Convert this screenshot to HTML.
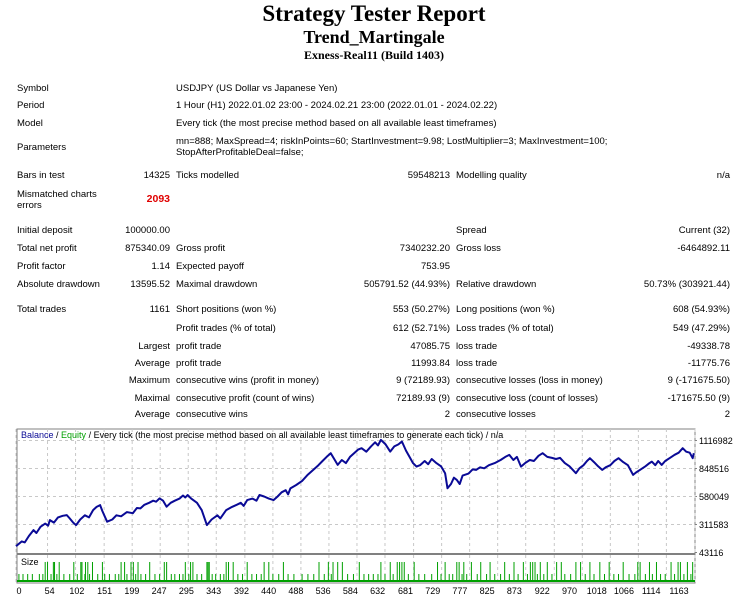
<!DOCTYPE html>
<html><head><meta charset="utf-8">
<style>
body{margin:0;width:742px;height:600px;background:#fff;position:relative;overflow:hidden;font-family:"Liberation Sans",sans-serif;color:#000}
.t{position:absolute;font-size:9.5px;white-space:nowrap;line-height:11px}
.r{text-align:right}
.h{position:absolute;left:0;width:748px;text-align:center;font-family:"Liberation Serif",serif;font-weight:bold;white-space:nowrap}
</style></head><body>
<div class="h" style="top:1px;font-size:23px">Strategy Tester Report</div>
<div class="h" style="top:27px;font-size:18px">Trend_Martingale</div>
<div class="h" style="top:48px;font-size:12px">Exness-Real11 (Build 1403)</div>

<div class="t" style="left:17px;top:83px">Symbol</div>
<div class="t" style="left:176px;top:83px">USDJPY (US Dollar vs Japanese Yen)</div>
<div class="t" style="left:17px;top:100px">Period</div>
<div class="t" style="left:176px;top:100px">1 Hour (H1) 2022.01.02 23:00 - 2024.02.21 23:00 (2022.01.01 - 2024.02.22)</div>
<div class="t" style="left:17px;top:118px">Model</div>
<div class="t" style="left:176px;top:118px">Every tick (the most precise method based on all available least timeframes)</div>
<div class="t" style="left:17px;top:142px">Parameters</div>
<div class="t" style="left:176px;top:136px">mn=888; MaxSpread=4; riskInPoints=60; StartInvestment=9.98; LostMultiplier=3; MaxInvestment=100;<br>StopAfterProfitableDeal=false;</div>
<div class="t" style="left:17px;top:170px">Bars in test</div>
<div class="t r" style="left:100px;width:70px;top:170px">14325</div>
<div class="t" style="left:176px;top:170px">Ticks modelled</div>
<div class="t r" style="left:350px;width:100px;top:170px">59548213</div>
<div class="t" style="left:456px;top:170px">Modelling quality</div>
<div class="t r" style="left:630px;width:100px;top:170px">n/a</div>
<div class="t" style="left:17px;top:189px">Mismatched charts<br>errors</div>
<div class="t r" style="left:100px;width:70px;top:194px;color:#e00000;font-weight:bold;font-size:10.5px">2093</div>

<div class="t" style="left:17px;top:225px">Initial deposit</div>
<div class="t r" style="left:100px;width:70px;top:225px">100000.00</div>
<div class="t" style="left:456px;top:225px">Spread</div>
<div class="t r" style="left:630px;width:100px;top:225px">Current (32)</div>

<div class="t" style="left:17px;top:243px">Total net profit</div>
<div class="t r" style="left:100px;width:70px;top:243px">875340.09</div>
<div class="t" style="left:176px;top:243px">Gross profit</div>
<div class="t r" style="left:350px;width:100px;top:243px">7340232.20</div>
<div class="t" style="left:456px;top:243px">Gross loss</div>
<div class="t r" style="left:630px;width:100px;top:243px">-6464892.11</div>

<div class="t" style="left:17px;top:261px">Profit factor</div>
<div class="t r" style="left:100px;width:70px;top:261px">1.14</div>
<div class="t" style="left:176px;top:261px">Expected payoff</div>
<div class="t r" style="left:350px;width:100px;top:261px">753.95</div>

<div class="t" style="left:17px;top:279px">Absolute drawdown</div>
<div class="t r" style="left:100px;width:70px;top:279px">13595.52</div>
<div class="t" style="left:176px;top:279px">Maximal drawdown</div>
<div class="t r" style="left:330px;width:120px;top:279px">505791.52 (44.93%)</div>
<div class="t" style="left:456px;top:279px">Relative drawdown</div>
<div class="t r" style="left:610px;width:120px;top:279px">50.73% (303921.44)</div>

<div class="t" style="left:17px;top:304px">Total trades</div>
<div class="t r" style="left:100px;width:70px;top:304px">1161</div>
<div class="t" style="left:176px;top:304px">Short positions (won %)</div>
<div class="t r" style="left:350px;width:100px;top:304px">553 (50.27%)</div>
<div class="t" style="left:456px;top:304px">Long positions (won %)</div>
<div class="t r" style="left:630px;width:100px;top:304px">608 (54.93%)</div>

<div class="t" style="left:176px;top:323px">Profit trades (% of total)</div>
<div class="t r" style="left:350px;width:100px;top:323px">612 (52.71%)</div>
<div class="t" style="left:456px;top:323px">Loss trades (% of total)</div>
<div class="t r" style="left:630px;width:100px;top:323px">549 (47.29%)</div>

<div class="t r" style="left:80px;width:90px;top:341px">Largest</div>
<div class="t" style="left:176px;top:341px">profit trade</div>
<div class="t r" style="left:350px;width:100px;top:341px">47085.75</div>
<div class="t" style="left:456px;top:341px">loss trade</div>
<div class="t r" style="left:630px;width:100px;top:341px">-49338.78</div>

<div class="t r" style="left:80px;width:90px;top:358px">Average</div>
<div class="t" style="left:176px;top:358px">profit trade</div>
<div class="t r" style="left:350px;width:100px;top:358px">11993.84</div>
<div class="t" style="left:456px;top:358px">loss trade</div>
<div class="t r" style="left:630px;width:100px;top:358px">-11775.76</div>

<div class="t r" style="left:80px;width:90px;top:375px">Maximum</div>
<div class="t" style="left:176px;top:375px">consecutive wins (profit in money)</div>
<div class="t r" style="left:350px;width:100px;top:375px">9 (72189.93)</div>
<div class="t" style="left:456px;top:375px">consecutive losses (loss in money)</div>
<div class="t r" style="left:630px;width:100px;top:375px">9 (-171675.50)</div>

<div class="t r" style="left:80px;width:90px;top:393px">Maximal</div>
<div class="t" style="left:176px;top:393px">consecutive profit (count of wins)</div>
<div class="t r" style="left:350px;width:100px;top:393px">72189.93 (9)</div>
<div class="t" style="left:456px;top:393px">consecutive loss (count of losses)</div>
<div class="t r" style="left:630px;width:100px;top:393px">-171675.50 (9)</div>

<div class="t r" style="left:80px;width:90px;top:409px">Average</div>
<div class="t" style="left:176px;top:409px">consecutive wins</div>
<div class="t r" style="left:350px;width:100px;top:409px">2</div>
<div class="t" style="left:456px;top:409px">consecutive losses</div>
<div class="t r" style="left:630px;width:100px;top:409px">2</div>

<svg id="chart" style="position:absolute;left:0;top:0" width="742" height="600" xmlns="http://www.w3.org/2000/svg"></svg>

<script>
const balanceTrades=[0,10,15,22,30,35,42,50,55,58,65,72,80,87,92,98,103,110,118,125,132,138,144,148,156,165,172,180,190,200,207,213,220,228,235,240,246,252,258,265,272,280,286,290,294,300,310,318,327,335,345,350,360,370,378,385,390,396,405,412,417,425,433,441,448,455,462,466,470,480,490,500,510,518,525,532,539,545,551,558,565,572,580,586,592,600,608,615,620,625,633,641,648,655,661,668,675,680,686,692,700,706,712,720,728,735,739,745,750,755,760,765,775,782,788,795,802,810,820,830,838,845,852,858,865,872,880,887,895,902,910,918,925,932,940,948,959,965,972,978,983,990,997,1004,1010,1018,1025,1032,1040,1048,1057,1062,1070,1078,1085,1089,1095,1100,1106,1112,1120,1128,1135,1142,1148,1154,1159,1161];
const balanceValues=[104000,150000,140000,200000,258000,230000,290000,320000,300000,354000,330000,380000,395000,402000,370000,330000,306000,360000,400000,380000,450000,480000,498000,440000,338000,360000,400000,390000,430000,420000,470000,466000,500000,520000,540000,530000,562000,540000,482000,520000,540000,560000,590000,570000,594000,560000,520000,450000,306000,360000,400000,370000,450000,480000,500000,520000,490000,546000,560000,540000,594000,580000,560000,546000,580000,620000,640000,600000,658000,690000,730000,790000,840000,880000,920000,960000,995000,940000,883000,930000,900000,960000,1000000,1030000,1043000,1010000,1060000,1100000,1070000,1123000,1080000,1011000,1060000,1080000,1107000,1020000,950000,900000,867000,880000,920000,890000,940000,900000,870000,803000,659000,700000,760000,739000,700000,780000,800000,840000,835000,860000,850000,880000,900000,930000,960000,979000,930000,960000,867000,900000,930000,920000,970000,995000,960000,950000,940000,950000,900000,870000,803000,850000,880000,920000,947000,910000,870000,835000,860000,880000,920000,947000,910000,880000,787000,810000,840000,870000,900000,915000,880000,920000,883000,920000,950000,980000,1000000,1043000,1010000,1000000,947000,995000];
const yTicks=[43116,311583,580049,848516,1116982];
const xTicks=[0,54,102,151,199,247,295,343,392,440,488,536,584,632,681,729,777,825,873,922,970,1018,1066,1114,1163];
const tallSizeTrades=[50,54,64,66,74,99,111,113,119,123,131,148,180,186,197,201,209,229,254,258,290,299,303,327,329,331,360,364,372,396,425,433,458,519,535,543,551,559,588,625,641,653,657,661,665,682,722,735,755,759,767,780,796,812,837,853,869,881,885,889,898,910,926,934,959,967,983,1000,1016,1040,1065,1069,1085,1097,1122,1134,1138,1150,1159];
const midSizeTrades=[5,12,20,28,40,46,60,70,82,92,105,118,126,140,152,160,170,176,190,205,214,222,238,246,266,272,280,286,296,310,318,336,342,350,356,380,388,404,412,420,440,450,466,476,490,500,510,528,540,568,578,596,604,612,620,632,646,672,690,700,712,728,742,748,764,772,790,806,820,830,845,860,876,893,904,918,940,950,975,990,1008,1024,1032,1050,1060,1078,1090,1104,1112,1128,1144,1156];

const NS="http://www.w3.org/2000/svg";
const svg=document.getElementById('chart');
const L=17,R=695,T=429,MB=553,ST=555,SB=583;
const xMax=1163;
function xs(t){return L-1+t*(R-L+1)/xMax;}
function xl(t){return 19+t*(679-19)/xMax;}
function ys(v){return 552.5-(v-43116)*(552.5-440.5)/(1116982-43116);}
function el(tag,attrs){const e=document.createElementNS(NS,tag);for(const k in attrs)e.setAttribute(k,attrs[k]);svg.appendChild(e);return e;}

const frame=el('rect',{x:L,y:T,width:R-L,height:SB-T,fill:'#fff',stroke:'#808080','stroke-width':1});



yTicks.forEach(v=>{
  const y=ys(v);
  if(v!==yTicks[0]){
    const g=el('line',{x1:L,x2:R,y1:y,y2:y,stroke:'#c8c8c8','stroke-dasharray':'3,3'});
    
    
  }
  const tk=el('line',{x1:R,x2:R+2,y1:y,y2:y,stroke:'#808080'});
  
  
  const tx=el('text',{x:R+4,y:y+3.5,'font-size':'9','font-family':'Liberation Sans, sans-serif',fill:'#000'});
  tx.textContent=v;
  
  
});

xTicks.forEach((t,i)=>{
  const x=xs(t);
  const g=el('line',{x1:x,x2:x,y1:T,y2:SB,stroke:'#c8c8c8','stroke-dasharray':'3,3'});
  
  
  const tx=el('text',{x:xl(t),y:594,'font-size':'9','font-family':'Liberation Sans, sans-serif',fill:'#000','text-anchor':'middle'});
  tx.textContent=t;
  
  
});

const sep=el('rect',{x:L,y:MB,width:R-L,height:ST-MB,fill:'#808080'});



const base=el('rect',{x:L,y:SB-3,width:R-L,height:2,fill:'#00a000'});


midSizeTrades.forEach(t=>{
  const b=el('line',{x1:xs(t),x2:xs(t),y1:SB-9,y2:SB-1,stroke:'#00a000','stroke-width':1});
  
  
});
tallSizeTrades.forEach(t=>{
  const b=el('line',{x1:xs(t),x2:xs(t),y1:ST+7,y2:SB-1,stroke:'#00a000','stroke-width':1});
  
  
});
const sl=el('text',{x:L+4,y:ST+10,'font-size':'9','font-family':'Liberation Sans, sans-serif',fill:'#000'});
sl.textContent='Size';



const pts=balanceTrades.map((t,i)=>xs(t).toFixed(1)+','+ys(balanceValues[i]).toFixed(1)).join(' ');
const line=el('polyline',{points:pts,fill:'none',stroke:'#0a0a96','stroke-width':2,'stroke-linejoin':'round'});



const lg=el('text',{x:L+4,y:T+9,'font-size':'9','font-family':'Liberation Sans, sans-serif',fill:'#000'});


const s1=document.createElementNS(NS,'tspan');s1.setAttribute('fill','#0a0a96');s1.textContent='Balance';lg.appendChild(s1);
const s2=document.createElementNS(NS,'tspan');s2.textContent=' / ';lg.appendChild(s2);
const s3=document.createElementNS(NS,'tspan');s3.setAttribute('fill','#00a000');s3.textContent='Equity';lg.appendChild(s3);
const s4=document.createElementNS(NS,'tspan');s4.textContent=' / Every tick (the most precise method based on all available least timeframes to generate each tick) / n/a';lg.appendChild(s4);
</script>
</body></html>
